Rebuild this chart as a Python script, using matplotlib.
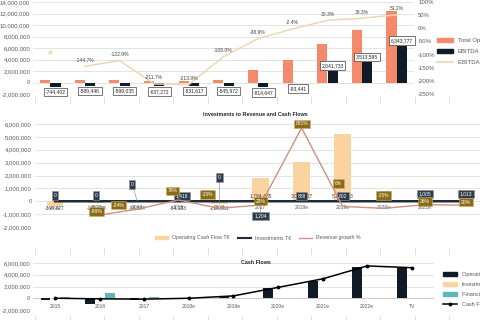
import numpy as np
import matplotlib
matplotlib.use("Agg")
import matplotlib.pyplot as plt
from matplotlib.patches import Rectangle, Patch
from matplotlib.lines import Line2D
from matplotlib.ticker import FuncFormatter

# ---------------- data ----------------
top_years = ['2012', '2013', '2014', '2015', '2016', '2017', '2018e', '2019e', '2020e', '2021e', '2022e']
total_operating = [420000, 407000, 487000, 301000, 248000, 505000, 2094000, 3893000, 6738000, 9174000, 12390000]
ebitda = [-744402, -589446, -599035, -637272, -531617, -545972, -814647, -93441, 2041733, 3513595, 6343777]
ebitda_margin = [-92.0, -144.7, -122.9, -211.7, -213.9, -108.0, -38.9, -2.4, 30.3, 38.3, 51.2]

mid_years = ['2012', '2013', '2014', '2015', '2016', '2017', '2018e', '2019e', '2020e', '2021e', '']
op_cash_flow_mid = [-360327, -135179, -38824, -84183, -218651, 1794435, 3046127, 5248113, np.nan, np.nan, np.nan]
investments_mid = [0, 0, 0, 1418, 0, 1204, 888, 802, 950, 1005, 1013]
revenue_growth = [np.nan, -96, -24, 78, -15, 22, 881, 6, -15, 26, 20]

cf_years = ['2015', '2016', '2017', '2018e', '2019e', '2020e', '2021e', '2022e', 'TV']
operating_cf = [-250000, -1000000, -300000, 0, 300000, 1800000, 3000000, 5300000, 5150000]
investments_cf = [-50000, -80000, -60000, 0, 0, 0, 0, 0, 0]
financing_cf = [250000, 900000, 150000, 0, 0, 0, 0, 0, 0]
cash_flow = [0, -100000, -150000, 0, 400000, 1850000, 3300000, 5500000, 5200000]

# ---------------- style ----------------
plt.rcParams['font.family'] = ['Liberation Sans', 'DejaVu Sans']
W, H = 480, 320
DPI = 100
TICK_FS = 4.3
LBL_FS = 3.6
TXT = '#595959'
GRID = '#D9D9D9'
SALMON = '#F4896B'
NAVY = '#0F1B26'
BEIGE = '#EAD9B0'
PEACH = '#FBD3A0'
INV_LINE = '#1E2B38'
GROWTH = '#C9937D'
GOLD = '#8B6B16'
TEAL = '#5DB6BA'


def fx(px):
    return px / W


def fy(py):
    return 1 - py / H


def px2pt(p):
    return p * 72 / DPI


money = FuncFormatter(lambda v, p: f'{v:,.0f}')

fig = plt.figure(figsize=(W / DPI, H / DPI), dpi=DPI)
fig.patch.set_facecolor('white')

# spreadsheet cell lines visible in gaps between charts
bg = fig.add_axes([0, 0, 1, 1], zorder=-3)
bg.set_xlim(0, W)
bg.set_ylim(H, 0)
bg.set_axis_off()
for cx in np.arange(35, W + 1, 34.5):
    bg.axvline(cx, color=GRID, lw=0.6)
for (y0, y1) in [(0, 97), (104, 248), (255, 316)]:
    fig.add_artist(Rectangle((0, fy(y1)), 1, (y1 - y0) / H, transform=fig.transFigure,
                             facecolor='white', edgecolor='none', zorder=-2))


def style_axes(ax):
    ax.set_facecolor('none')
    for s in ax.spines.values():
        s.set_visible(False)
    ax.tick_params(axis='both', length=0, labelsize=TICK_FS, labelcolor=TXT, pad=2)
    ax.yaxis.grid(True, color=GRID, lw=0.5)
    ax.set_axisbelow(True)


# ---------------- top panel ----------------
x1 = np.arange(len(top_years))
ax1 = fig.add_axes([fx(33), fy(94), fx(414) - fx(33), (94 - 2) / H])
style_axes(ax1)
ax1.set_xlim(-0.5, len(top_years) - 0.5)
ax1.set_ylim(-2e6, 14e6)
ax1.set_yticks(np.arange(-2e6, 14e6 + 1, 2e6))
ax1.yaxis.set_major_formatter(money)
ax1.set_xticks([])
ax1.bar(x1 - 0.15, total_operating, 0.29, color=SALMON, zorder=2)
ax1.bar(x1 + 0.15, ebitda, 0.29, color=NAVY, zorder=2)
for xi, v in zip(x1, ebitda):
    ax1.annotate(f'{v:,.0f}', (xi + 0.15, v), xytext=(0, -2 if v < 0 else 2), textcoords='offset points',
                 ha='center', va='top' if v < 0 else 'bottom', fontsize=LBL_FS, color='#262626', zorder=5,
                 bbox=dict(boxstyle='square,pad=0.35', fc='white', ec='#404040', lw=0.5))

ax1b = ax1.twinx()
ax1b.set_facecolor('none')
for s in ax1b.spines.values():
    s.set_visible(False)
ax1b.set_ylim(-250, 100)
ax1b.set_yticks(np.arange(-250, 101, 50))
ax1b.yaxis.set_major_formatter(FuncFormatter(lambda v, p: f'{v:.0f}%'))
ax1b.tick_params(axis='y', length=0, labelsize=TICK_FS, labelcolor=TXT, pad=3)
ax1b.plot(x1[1:], ebitda_margin[1:], color=BEIGE, lw=1.1, zorder=3)
ax1b.plot(x1[:1], ebitda_margin[:1], 'o', color=BEIGE, ms=1.8)
for xi, m in zip(x1[1:], ebitda_margin[1:]):
    ax1b.annotate(f'{m:.1f}%', (xi, m), xytext=(0, 2.5), textcoords='offset points',
                  ha='center', va='bottom', fontsize=LBL_FS, color='#404040')

h_top = [Patch(color=SALMON), Patch(color=NAVY), Line2D([], [], color=BEIGE, lw=1.2)]
fig.legend(h_top, ['Total Operating Revenue', 'EBITDA', 'EBITDA Margin'], loc='upper left',
           bbox_to_anchor=(fx(432), fy(33)), fontsize=4.3, frameon=False, labelspacing=0.95,
           handlelength=2.6, handleheight=0.6, labelcolor=TXT)

# ---------------- middle panel ----------------
x2 = np.arange(len(mid_years))
ax2 = fig.add_axes([fx(34.5), fy(227), 452 / W, (227 - 124) / H])
style_axes(ax2)
ax2.set_xlim(-0.5, len(mid_years) - 0.5)
ax2.set_ylim(-2e6, 6e6)
ax2.set_yticks(np.arange(-2e6, 6e6 + 1, 1e6))
ax2.yaxis.set_major_formatter(money)
ax2.spines['bottom'].set_position(('data', 0))
ax2.set_xticks(x2, mid_years)
ax2.tick_params(axis='x', pad=3, labelsize=LBL_FS)
ax2.bar(x2, op_cash_flow_mid, 0.4, color=PEACH, zorder=2)
ax2.plot(x2, investments_mid, color=INV_LINE, lw=1.8, zorder=3)
for xi, v in zip(x2, op_cash_flow_mid):
    if np.isnan(v):
        continue
    ax2.annotate(f'{v:,.0f}', (xi, 0), xytext=(0, 3.6 if v > 0 else -5), textcoords='offset points',
                 ha='center', va='center', fontsize=LBL_FS, color='#404040', zorder=4)

inv_offsets_px = [(0, 6), (0, 6), (-5, 17), (4, 5), (0, 24), (0, -15), (0, 5), (0, 5), (0, 6), (0, 7), (0, 7)]
for xi, v, (dx, dy) in zip(x2, investments_mid, inv_offsets_px):
    ap = dict(arrowstyle='-', color='#7F7F7F', lw=0.4, shrinkA=0, shrinkB=0) if abs(dy) > 12 else None
    ax2.annotate(f'{v:,.0f}', (xi, v), xytext=(px2pt(dx), px2pt(dy)), textcoords='offset points',
                 ha='center', va='center', fontsize=LBL_FS, color='white', zorder=5, arrowprops=ap,
                 bbox=dict(boxstyle='square,pad=0.35', fc='#2E3B4B', ec='#8C96A0', lw=0.4))

ax2b = ax2.twinx()
ax2b.set_facecolor('none')
for s in ax2b.spines.values():
    s.set_visible(False)
ax2b.set_ylim(-223, 925)
ax2b.set_yticks([])
ax2b.plot(x2, revenue_growth, color=GROWTH, lw=1.0, zorder=3)
gr_offsets_px = [(0, 0), (0, 4), (-19, 4), (-6, 9), (-12, 14), (0, 4), (0, 4), (-4, 23), (0, 13), (0, 3), (0, 3)]
for xi, g, (dx, dy) in zip(x2, revenue_growth, gr_offsets_px):
    if np.isnan(g):
        continue
    ax2b.annotate(f'{g:.0f}%', (xi, g), xytext=(px2pt(dx), px2pt(dy)), textcoords='offset points',
                  ha='center', va='center', fontsize=LBL_FS, color='white', zorder=6,
                  bbox=dict(boxstyle='square,pad=0.35', fc=GOLD, ec='#C8B070', lw=0.4))

fig.text(fx(255), fy(114), 'Investments to Revenue and Cash Flows', ha='center', va='center',
         fontsize=3.9, fontweight='bold', color='#262626')
h_mid = [Patch(color=PEACH), Line2D([], [], color=INV_LINE, lw=1.5), Line2D([], [], color=GROWTH, lw=1.0)]
fig.legend(h_mid, ['Operating Cash Flow T€', 'Investments T€', 'Revenue growth %'], loc='center',
           bbox_to_anchor=(fx(258), fy(238)), ncol=3, fontsize=3.8, frameon=False, columnspacing=1.6,
           handlelength=2.4, handleheight=0.6, labelcolor=TXT)

# ---------------- bottom panel ----------------
x3 = np.arange(len(cf_years))
ax3 = fig.add_axes([fx(33), fy(310), 401 / W, (310 - 263) / H])
style_axes(ax3)
ax3.set_xlim(-0.5, len(cf_years) - 0.5)
ax3.set_ylim(-2e6, 6e6)
ax3.set_yticks(np.arange(-2e6, 6e6 + 1, 2e6))
ax3.yaxis.set_major_formatter(money)
ax3.spines['bottom'].set_position(('data', 0))
ax3.set_xticks(x3, cf_years)
ax3.tick_params(axis='x', pad=4, labelsize=LBL_FS)
bw = 0.22
ax3.bar(x3 - bw, operating_cf, bw, color=NAVY, zorder=2)
ax3.bar(x3, investments_cf, bw, color=PEACH, zorder=2)
ax3.bar(x3 + bw, financing_cf, bw, color=TEAL, zorder=2)
ax3.axhline(0, color='#BFBFBF', lw=0.5, zorder=1)
ax3.plot(x3, cash_flow, color='black', lw=1.1, marker='o', ms=1.8, zorder=4)

fig.text(fx(256), fy(263), 'Cash Flows', ha='center', va='center', fontsize=3.9,
         fontweight='bold', color='#262626')
h_bot = [Patch(color=NAVY), Patch(color=PEACH), Patch(color=TEAL),
         Line2D([], [], color='black', lw=1.1, marker='o', ms=1.8)]
fig.legend(h_bot, ['Operating Cash Flow', 'Investments', 'Financing Cash Flow', 'Cash Flow'],
           loc='upper left', bbox_to_anchor=(fx(438), fy(267)), fontsize=4.0, frameon=False,
           labelspacing=0.9, handlelength=2.6, handleheight=0.6, labelcolor=TXT)

fig.savefig('out.png', dpi=DPI, facecolor='white')
